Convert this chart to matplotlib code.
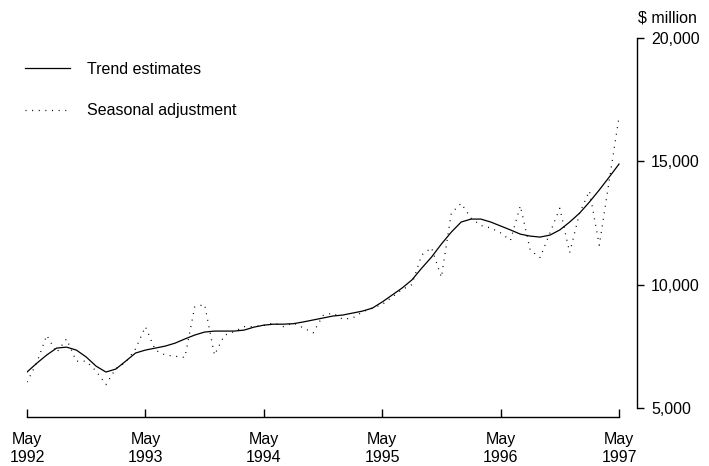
import matplotlib.pyplot as plt
import numpy as np

plt.rcParams['font.family'] = ['Liberation Sans', 'DejaVu Sans']

# monthly, May 1992 .. May 1997 ($ million)
trend = [6460, 6820, 7150, 7430, 7470, 7350, 7070, 6700, 6460, 6580, 6900, 7230,
         7350, 7430, 7510, 7630, 7800, 7960, 8080, 8120, 8120, 8120, 8160, 8280,
         8360, 8400, 8400, 8420, 8490, 8570, 8650, 8730, 8770, 8850, 8930, 9050,
         9300, 9580, 9860, 10190, 10670, 11120, 11650, 12130, 12540, 12660, 12660, 12540,
         12380, 12220, 12050, 11970, 11930, 12010, 12220, 12540, 12900, 13350, 13840, 14360,
         14890]
seasonal = [6050, 6850, 7950, 7250, 7800, 6900, 6900, 6500, 5950, 6600, 6850, 7400,
            8300, 7350, 7150, 7100, 7050, 9100, 9200, 7150, 7950, 8100, 8300, 8300,
            8350, 8450, 8300, 8450, 8250, 8050, 8750, 8850, 8600, 8650, 8900, 9050,
            9200, 9500, 9800, 10000, 11200, 11500, 10300, 12900, 13300, 12700, 12400, 12300,
            12100, 11800, 13200, 11400, 11100, 12100, 13100, 11300, 12900, 13800, 11600, 14200,
            16800]
months = np.arange(len(trend))
tick_pos = [0, 12, 24, 36, 48, 60]
tick_labels = ['May\n1992', 'May\n1993', 'May\n1994', 'May\n1995', 'May\n1996', 'May\n1997']
y_ticks = [5000, 10000, 15000, 20000]
fs = 11.5

fig = plt.figure(figsize=(7.09, 4.66), dpi=100)
ax = fig.add_axes([27 / 709, 1 - 417 / 466, 610 / 709, 379 / 466])

ax.plot(months, trend, color='black', lw=0.9, label='Trend estimates')
ax.plot(months, seasonal, color='black', lw=0.9, linestyle=(0, (0.8, 4.5)),
        label='Seasonal adjustment')

ax.set_xlim(0, 610 / 9.867)
ax.set_ylim(20000 - 379 / 24.67 * 1000, 20000)

for side in ['top', 'left']:
    ax.spines[side].set_visible(False)
ax.spines['bottom'].set_bounds(0, 60)
ax.spines['right'].set_bounds(5000, 20000)
for side in ['bottom', 'right']:
    ax.spines[side].set_linewidth(1.0)

ax.set_xticks(tick_pos)
ax.set_xticklabels(tick_labels, fontsize=fs, linespacing=1.25)
ax.tick_params(axis='x', direction='in', length=6, width=1, pad=11)

ax.yaxis.tick_right()
ax.set_yticks(y_ticks)
ax.set_yticklabels([f'{v:,}' for v in y_ticks], fontsize=fs)
ax.tick_params(axis='y', direction='out', length=5, width=1, pad=5)

fig.text(638 / 709, 1 - 18 / 466, '$ million', fontsize=fs, va='center', ha='left')

ax.legend(loc='upper left', bbox_to_anchor=(25 / 709, 1 - 62 / 466),
          bbox_transform=fig.transFigure, frameon=False, fontsize=fs,
          handlelength=2.8, handletextpad=1.1, labelspacing=1.65,
          borderpad=0, borderaxespad=0)

fig.savefig('out.png', dpi=100)
